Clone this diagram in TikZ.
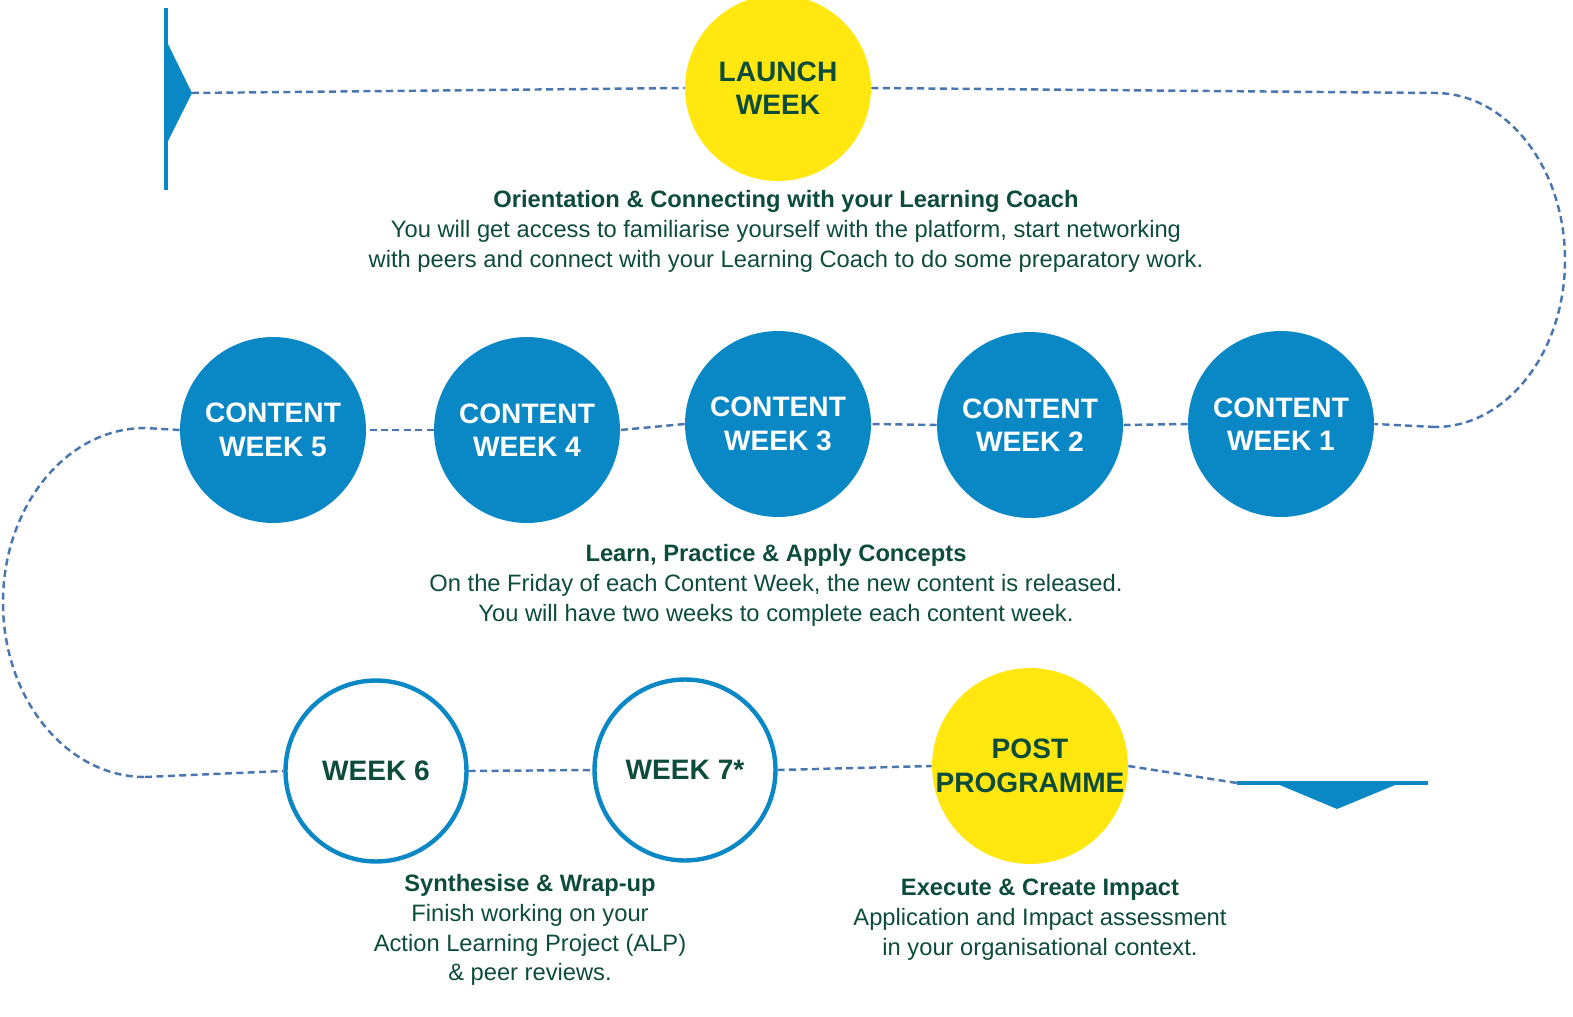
\documentclass[tikz,border=0pt]{standalone}
\usepackage{fontspec}
\setmainfont{Liberation Sans}
\definecolor{dg}{HTML}{0D4C3A}
\definecolor{bl}{HTML}{0A88C6}
\definecolor{yl}{HTML}{FFE70F}
\definecolor{dl}{HTML}{4A76B0}
\begin{document}
\begin{tikzpicture}[x=0.02cm,y=-0.02cm,
  dsh/.style={dl,line width=1.4pt,dash pattern=on 4pt off 2.5pt},
  circ/.style={circle,minimum size=3.72cm,inner sep=0pt,align=center,font=\fontsize{16}{19}\selectfont\bfseries},
  yc/.style={circ,fill=yl,text=dg},
  bc/.style={circ,fill=bl,text=white},
  wc/.style={circ,draw=bl,line width=2.5pt,fill=white,text=dg,minimum size=3.62cm},
  capt/.style={align=center,text=dg,font=\fontsize{13.5}{17}\selectfont}]
\useasboundingbox (0,0) rectangle (1573,1017);
\coordinate (s0) at (166,8); \coordinate (s1) at (166,190);
\draw[bl,line width=2.5pt] (s0) -- (s1);
\fill[bl] (166,40) -- (192,93) -- (166,145) -- cycle;
\coordinate (a) at (192,93);
\node[yc] (L) at (778,88) {LAUNCH\\WEEK};
\node[bc] (c5) at (273,430) {CONTENT\\WEEK 5};
\node[bc] (c4) at (527,430) {CONTENT\\WEEK 4};
\node[bc] (c3) at (778,424) {CONTENT\\WEEK 3};
\node[bc] (c2) at (1030,425) {CONTENT\\WEEK 2};
\node[bc] (c1) at (1281,424) {CONTENT\\WEEK 1};
\node[wc] (w6) at (376,771) {WEEK 6};
\node[wc] (w7) at (685,770) {WEEK 7*};
\node[yc] (P) at (1030,766) {POST\\PROGRAMME};
\coordinate (r1) at (1435,93); \coordinate (r2) at (1435,427);
\coordinate (l1) at (145,428); \coordinate (l2) at (145,777);
\coordinate (e1) at (1237,783);
\draw[dsh] (a) -- (L.west);
\draw[dsh] (L.east) -- (r1) arc[start angle=90,end angle=-90,x radius=130,y radius=-167];
\draw[dsh] (r2) -- (c1.east);
\draw[dsh] (c1.west) -- (c2.east);
\draw[dsh] (c2.west) -- (c3.east);
\draw[dsh] (c3.west) -- (c4.east);
\draw[dsh] (c4.west) -- (c5.east);
\draw[dsh] (c5.west) -- (l1) arc[start angle=90,end angle=270,x radius=142,y radius=-174.5];
\draw[dsh] (l2) -- (w6.west);
\draw[dsh] (w6.east) -- (w7.west);
\draw[dsh] (w7.east) -- (P.west);
\draw[dsh] (P.east) -- (e1);
\coordinate (e2) at (1428,783);
\draw[bl,line width=2.5pt] (e1) -- (e2);
\fill[bl] (1275,783) -- (1400,783) -- (1337,809) -- cycle;
\node[capt] (t1) at (786,231) {\textbf{Orientation \& Connecting with your Learning Coach}\\You will get access to familiarise yourself with the platform, start networking\\with peers and connect with your Learning Coach to do some preparatory work.};
\node[capt] (t2) at (776,585) {\textbf{Learn, Practice \& Apply Concepts}\\On the Friday of each Content Week, the new content is released.\\You will have two weeks to complete each content week.};
\node[capt] (t3) at (530,930) {\textbf{Synthesise \& Wrap-up}\\Finish working on your\\Action Learning Project (ALP)\\\& peer reviews.};
\node[capt] (t4) at (1040,920) {\textbf{Execute \& Create Impact}\\Application and Impact assessment\\in your organisational context.};
\end{tikzpicture}
\end{document}
